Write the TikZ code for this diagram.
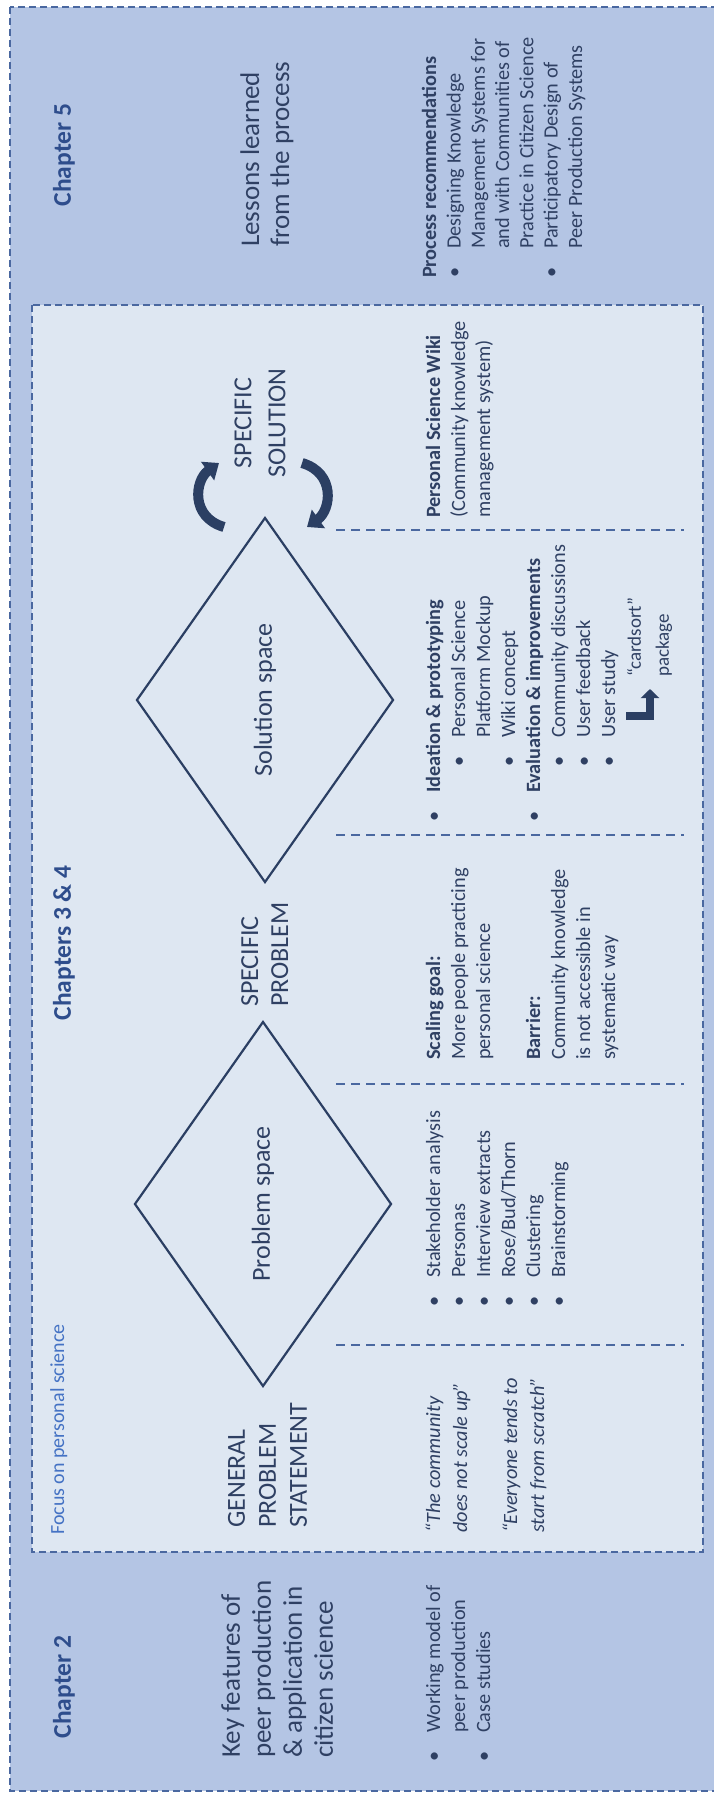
\documentclass[tikz,border=0pt]{standalone}
\usepackage{fontspec}
\setmainfont{Carlito}
\usetikzlibrary{arrows.meta,shapes.geometric}
\definecolor{outerfill}{HTML}{B4C5E4}
\definecolor{innerfill}{HTML}{DEE7F2}
\definecolor{boxline}{HTML}{4A68A0}
\definecolor{textcol}{HTML}{2F4063}
\definecolor{headcol}{HTML}{2E4D8C}
\definecolor{focuscol}{HTML}{4472C4}
\definecolor{shapecol}{HTML}{2B3F63}
\newcommand\bul{\makebox[29pt][l]{\textbullet}}
\newcommand\ind[1]{\hspace*{#1pt}}
\tikzset{
  body/.style={rotate=90, anchor=north west, inner sep=0pt, align=left, text=textcol, font=\fontsize{20.3}{25}\selectfont},
  big/.style={body, font=\fontsize{27}{31}\selectfont},
  chap/.style={rotate=90, inner sep=0pt, text=headcol, font=\fontsize{25.5}{28}\selectfont\bfseries},
  dashbox/.style={draw=boxline, line width=1.4pt, dash pattern=on 7pt off 4pt},
  sepline/.style={draw=boxline, line width=1.8pt, dash pattern=on 9pt off 6pt},
  spacebox/.style={diamond, rotate=90, draw=shapecol, line width=2.2pt, inner sep=0pt, minimum width=365pt, minimum height=257pt, text=textcol, font=\fontsize{26}{30}\selectfont},
  turn/.style={draw=shapecol, line width=10pt, -{Triangle[width=22pt,length=14pt]}},
  bentarrow/.style={draw=shapecol, line width=8pt, line join=miter, -{Triangle[width=18pt,length=9pt]}}
}
\begin{document}
\begin{tikzpicture}[x=1pt,y=-1pt]
  \useasboundingbox (0,0) rectangle (713,1794);

  % frames
  \draw[dashbox, fill=outerfill] (10,7) rectangle (725,1791);
  \draw[dashbox, fill=innerfill] (32,305) rectangle (703,1552);
  \foreach \y in {530,835,1084,1345}
    \draw[sepline] (336,\y) -- (684,\y);

  % chapter heads
  \node[chap] (ch5) at (64,155) {Chapter 5};
  \node[chap] (ch34) at (64,943) {Chapters 3 \& 4};
  \node[chap] (ch2) at (64,1687) {Chapter 2};
  \node[body, anchor=base west, text=focuscol, font=\fontsize{20}{24}\selectfont] (focus) at (64,1535) {Focus on personal science};

  % top row (strut tops: 0.7 of the line skip)
  \node[big] (keyfeat) at (218,1758) {\strut Key features of\\peer production\\\& application in\\citizen science};
  \node[big, font=\fontsize{26}{31}\selectfont] (general) at (223,1528) {\strut GENERAL\\PROBLEM\\STATEMENT};
  \node[spacebox] (probspace) at (263,1204) {Problem space};
  \node[big, font=\fontsize{26}{30}\selectfont] (specprob) at (237,1007) {\strut SPECIFIC\\PROBLEM};
  \node[spacebox] (solspace) at (265,700) {Solution space};
  \node[big, anchor=center, align=center, font=\fontsize{26}{34}\selectfont] (specsol) at (260,423) {SPECIFIC\\SOLUTION};
  \node[big, font=\fontsize{27}{30}\selectfont] (lessons) at (238,247) {\strut Lessons learned\\from the process};

  % iteration arrows
  \draw[turn] (224,527) .. controls (190,517) and (195,480) .. (219,463);
  \draw[turn] (302,463) .. controls (336,473) and (331,510) .. (307,527);

  % bottom row
  \node[body] (workmodel) at (422.5,1762) {\strut\bul Working model of\\\ind{29}peer production\\\bul Case studies};
  \node[body, font=\fontsize{20.3}{27}\selectfont\itshape] (quote1) at (421,1533) {\strut “The community\\does not scale up”};
  \node[body, font=\fontsize{20.3}{27}\selectfont\itshape] (quote2) at (498,1533) {\strut “Everyone tends to\\start from scratch”};
  \node[body] (methods) at (422.5,1307) {\strut\bul Stakeholder analysis\\\bul Personas\\\bul Interview extracts\\\bul Rose/Bud/Thorn\\\bul Clustering\\\bul Brainstorming};
  \node[body] (goal) at (422.5,1060) {\strut\textbf{Scaling goal:}\\More people practicing\\personal science\\[25pt]\textbf{Barrier:}\\Community knowledge\\is not accessible in\\systematic way};
  \node[body] (ideation) at (422.5,822) {\strut\bul\textbf{Ideation \& prototyping}\\\ind{55}\bul Personal Science\\\ind{84}Platform Mockup\\\ind{55}\bul Wiki concept\\\bul\textbf{Evaluation \& improvements}\\\ind{55}\bul Community discussions\\\ind{55}\bul User feedback\\\ind{55}\bul User study};
  \node[body, font=\fontsize{19}{28}\selectfont] (cardsort) at (621,677) {\strut “cardsort”\\package};
  \draw[bentarrow] (626,716) -| (650,689);
  \node[body] (wiki) at (422.5,518) {\strut\textbf{Personal Science Wiki}\\(Community knowledge\\management system)};
  \node[body, font=\fontsize{20.3}{24.3}\selectfont] (process) at (419,278) {\strut\textbf{Process recommendations}\\\bul Designing Knowledge\\\ind{29}Management Systems for\\\ind{29}and with Communities of\\\ind{29}Practice in Citizen Science\\\bul Participatory Design of\\\ind{29}Peer Production Systems};
\end{tikzpicture}
\end{document}
